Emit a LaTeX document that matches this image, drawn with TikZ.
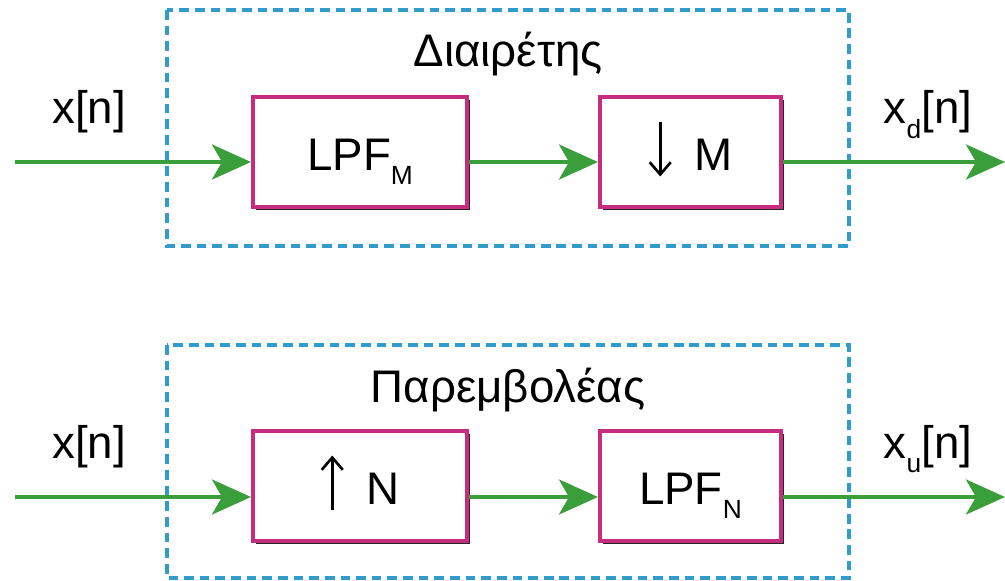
\documentclass[tikz,border=0pt]{standalone}
\usepackage{fontspec}
\setmainfont{Liberation Sans}
\usepackage{tikz}
\usetikzlibrary{arrows.meta,shadows}
\definecolor{boxpink}{RGB}{198,45,128}
\definecolor{siggreen}{RGB}{58,158,58}
\definecolor{dashblue}{RGB}{50,155,205}
\newcommand{\lowidx}[1]{\raisebox{-0.6ex}{\fontsize{15}{17}\selectfont #1}}
\newcommand{\thinarrow}[1]{\tikz[baseline=0pt,x=1cm,y=1cm]\draw[line width=1.5pt,-{Straight Barb[length=7pt,width=12pt]}] #1;}

\begin{document}
\begin{tikzpicture}[x=0.02cm,y=-0.02cm,
    every node/.style={font=\fontsize{26}{31}\selectfont},
    blockbox/.style={draw=boxpink,line width=2.3pt,fill=white,inner sep=0pt,minimum height=2.2cm,
        text height=0.92cm,text depth=0.18cm,
        drop shadow={shadow xshift=0.06cm,shadow yshift=-0.06cm,opacity=1,fill=black!85}},
    groupbox/.style={draw=dashblue,line width=2.2pt,dash pattern=on 5.5pt off 3.4pt},
    sigline/.style={siggreen,line width=2.2pt,-{Stealth[length=0.78cm,width=0.7cm,inset=0.2cm]}}]
            \useasboundingbox (0,0) rectangle (1005,581);
            % decimator
            \draw[groupbox] (167,10) rectangle (849,246);
            \node (divtitle) at (508,67) [anchor=base] {Διαιρέτης};
            \node[blockbox,minimum width=4.28cm] (lpfm) at (360,152) {LPF\lowidx{M}};
            \node[blockbox,minimum width=3.62cm] (down) at (690.5,152) {\thinarrow{(0,0.98) -- (0,-0.12)}\hspace{0.45cm}M};
            \coordinate (in1) at (15,162);
            \coordinate (out1) at (1005,162);
            \draw[sigline] (in1) -- (in1 -| lpfm.west);
            \draw[sigline] (in1 -| lpfm.east) -- (in1 -| down.west);
            \draw[sigline] (in1 -| down.east) -- (out1);
            \node (xin1) at (89,124) [anchor=base] {x[n]};
            \node (xd) at (928,124) [anchor=base] {x\lowidx{d}[n]};
            % interpolator
            \draw[groupbox] (167,345) rectangle (849,578);
            \node (inttitle) at (508,402) [anchor=base] {Παρεμβολέας};
            \node[blockbox,minimum width=4.28cm] (up) at (360,486) {\thinarrow{(0,-0.12) -- (0,0.98)}\hspace{0.45cm}N};
            \node[blockbox,minimum width=3.62cm] (lpfn) at (690.5,486) {LPF\lowidx{N}};
            \coordinate (in2) at (15,497);
            \coordinate (out2) at (1005,497);
            \draw[sigline] (in2) -- (in2 -| up.west);
            \draw[sigline] (in2 -| up.east) -- (in2 -| lpfn.west);
            \draw[sigline] (in2 -| lpfn.east) -- (out2);
            \node (xin2) at (89,458) [anchor=base] {x[n]};
            \node (xu) at (928,458) [anchor=base] {x\lowidx{u}[n]};
        \end{tikzpicture}
\end{document}
